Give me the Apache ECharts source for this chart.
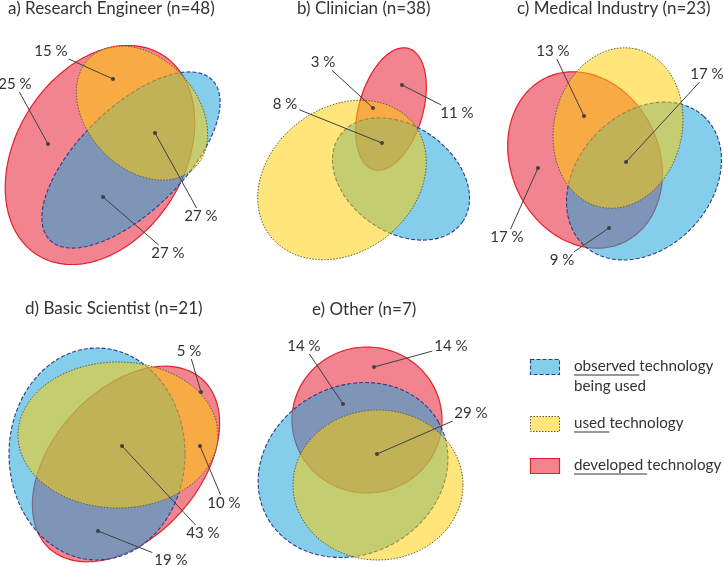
<!DOCTYPE html>
<html><head><meta charset="utf-8">
<script src="https://cdn.jsdelivr.net/npm/echarts/dist/echarts.min.js"></script>
<style>html,body{margin:0;padding:0;background:#fff}#c{width:724px;height:566px}</style>
</head><body><div id="c"></div>
<script>
// ---- data ----
const panelTitles = ['a) Research Engineer (n=48)', 'b) Clinician (n=38)', 'c) Medical Industry (n=23)', 'd) Basic Scientist (n=21)', 'e) Other (n=7)'];
// ellipse sets per panel: [centerX, centerY, semiAxis1, semiAxis2, tiltDeg] in chart units
const developed = [[100,155,118,84,58],[391,109,63,32,74],[585,160,91,74,-65],[126,464,114,73,48],[367,420,75,73,0]];
const observed  = [[131,160,114,52,44.5],[401,179,75,53,-35],[644,181,88,67,47],[97,454,88,106,0],[353,470,98,84,29]];
const used      = [[142,113,76,55,-47],[342,180,91,72,38],[618,128,81,64,77],[118,435,100,73,0],[378,485,85,75,0]];
// percentage labels and the region points they refer to
const pctValues  = [15,25,27,27, 3,8,11, 13,17,17,9, 5,10,43,19, 14,14,29];
const pctAnchors = [[113,79],[48,144],[155,133],[103,197],[373,108],[382,143],[402,85],[584,116],[626,162],[538,168],[609,228],[201,392],[200,446],[122,446],[98,531],[343,404],[374,367],[377,454]];
const legendLabels = [['observed', ' technology', 'being used'], ['used', ' technology', ''], ['developed', ' technology', '']];

// ---- layout (positions/styles) ----
const pctTextPos = [[51,51],[15,84],[201,216],[168,253],[323,62],[285,104],[457,113],[553,51],[707,74],[507,237],[562,260],[189,351],[224,503],[203,533],[171,560],[304,346],[451,346],[471,413]];
const titlePos = [[8,0],[297,0],[517,0],[25,300],[312,301]];
const FONT = 'Lato';
const TXT = '#333333';
const styles = {
  developed: {fill:'rgba(228,10,32,0.5)', stroke:'#e3202c', lineWidth:1.2, lineDash:null},
  observed:  {fill:'rgba(29,164,218,0.54)', stroke:'#2b3c8c', lineWidth:1.1, lineDash:[4,2]},
  used:      {fill:'rgba(255,205,0,0.52)', stroke:'#5e5a40', lineWidth:1, lineDash:[1.5,1.5]}
};

const mctx = document.createElement('canvas').getContext('2d');
function tw(t, font){ mctx.font = font; return mctx.measureText(t).width; }

function ellipseSeries(name, data, st){
  return {
    type:'custom', name, coordinateSystem:'cartesian2d',
    dimensions:['cx','cy','a','b','ang'], encode:{x:0,y:1},
    data, silent:true, clip:false,
    renderItem(params, api){
      const cx=api.value(0), cy=api.value(1), a=api.value(2), b=api.value(3), ang=api.value(4)*Math.PI/180;
      const pts=[]; const N=160;
      for(let i=0;i<N;i++){
        const t=i/N*2*Math.PI, x=a*Math.cos(t), y=b*Math.sin(t);
        const dx=x*Math.cos(ang)-y*Math.sin(ang), dy=x*Math.sin(ang)+y*Math.cos(ang);
        pts.push(api.coord([cx+dx, cy-dy]));
      }
      const style={fill:st.fill, stroke:st.stroke, lineWidth:st.lineWidth};
      if(st.lineDash) style.lineDash=st.lineDash;
      return {type:'polygon', shape:{points:pts}, style};
    }
  };
}

const labelFont = '15px ' + FONT;
const labelSeries = {
  type:'custom', name:'labels', coordinateSystem:'cartesian2d', silent:true, clip:false,
  encode:{x:0,y:1}, data: pctAnchors, z:10,
  renderItem(params, api){
    const i=params.dataIndex;
    const txt = pctValues[i] + ' %';
    const p = api.coord([api.value(0), api.value(1)]);
    const tp = api.coord(pctTextPos[i]);
    const hw = tw(txt, labelFont)/2 + 2, hh = 8;
    const dx=p[0]-tp[0], dy=p[1]-tp[1];
    const t = Math.min(Math.abs(dx)>0?hw/Math.abs(dx):1e9, Math.abs(dy)>0?hh/Math.abs(dy):1e9);
    const sx = tp[0]+dx*t, sy = tp[1]+dy*t;
    return {type:'group', children:[
      {type:'line', shape:{x1:sx,y1:sy,x2:p[0],y2:p[1]}, style:{stroke:'#404040', lineWidth:1}},
      {type:'circle', shape:{cx:p[0],cy:p[1],r:2}, style:{fill:'#404040'}},
      {type:'text', x:tp[0], y:tp[1], style:{text:txt, fill:TXT, font:labelFont, align:'center', verticalAlign:'middle', textAlign:'center', textVerticalAlign:'middle'}}
    ]};
  }
};

// legend graphics
const legFont = '15.2px ' + FONT;
const legendKeys = ['observed','used','developed'];
const legRectY = [359, 416, 458];
const graphics = [];
legendLabels.forEach((l, i) => {
  const st = styles[legendKeys[i]];
  const y = legRectY[i];
  graphics.push({type:'rect', shape:{x:530.5,y:y+0.5,width:29,height:15}, style:{fill:st.fill, stroke:st.stroke, lineWidth:st.lineWidth, lineDash:st.lineDash||null}});
  const tx = 574, ty = y + 7.5;
  graphics.push({type:'text', x:tx, y:ty, style:{text:l[0]+l[1], fill:TXT, font:legFont, align:'left', verticalAlign:'middle', textAlign:'left', textVerticalAlign:'middle'}});
  const uw = tw(l[0]+' ', legFont);
  graphics.push({type:'line', shape:{x1:tx, y1:ty+8.5, x2:tx+uw, y2:ty+8.5}, style:{stroke:TXT, lineWidth:1}});
  if(l[2]) graphics.push({type:'text', x:tx, y:ty+20, style:{text:l[2], fill:TXT, font:legFont, align:'left', verticalAlign:'middle', textAlign:'left', textVerticalAlign:'middle'}});
});

const chart = echarts.init(document.getElementById('c'), null, {renderer:'canvas'});
chart.setOption({
  backgroundColor:'#ffffff',
  animation:false,
  title: panelTitles.map((t,i)=>({text:t, left:titlePos[i][0], top:titlePos[i][1], padding:0,
    textStyle:{fontSize:17, fontWeight:'normal', fontFamily:FONT, color:TXT}})),
  grid:{left:0, right:0, top:0, bottom:0},
  xAxis:{type:'value', min:0, max:724, show:false},
  yAxis:{type:'value', min:0, max:566, inverse:true, show:false},
  graphic: graphics,
  series:[
    ellipseSeries('developed technology', developed, styles.developed),
    ellipseSeries('observed technology being used', observed, styles.observed),
    ellipseSeries('used technology', used, styles.used),
    labelSeries
  ]
});
</script></body></html>
